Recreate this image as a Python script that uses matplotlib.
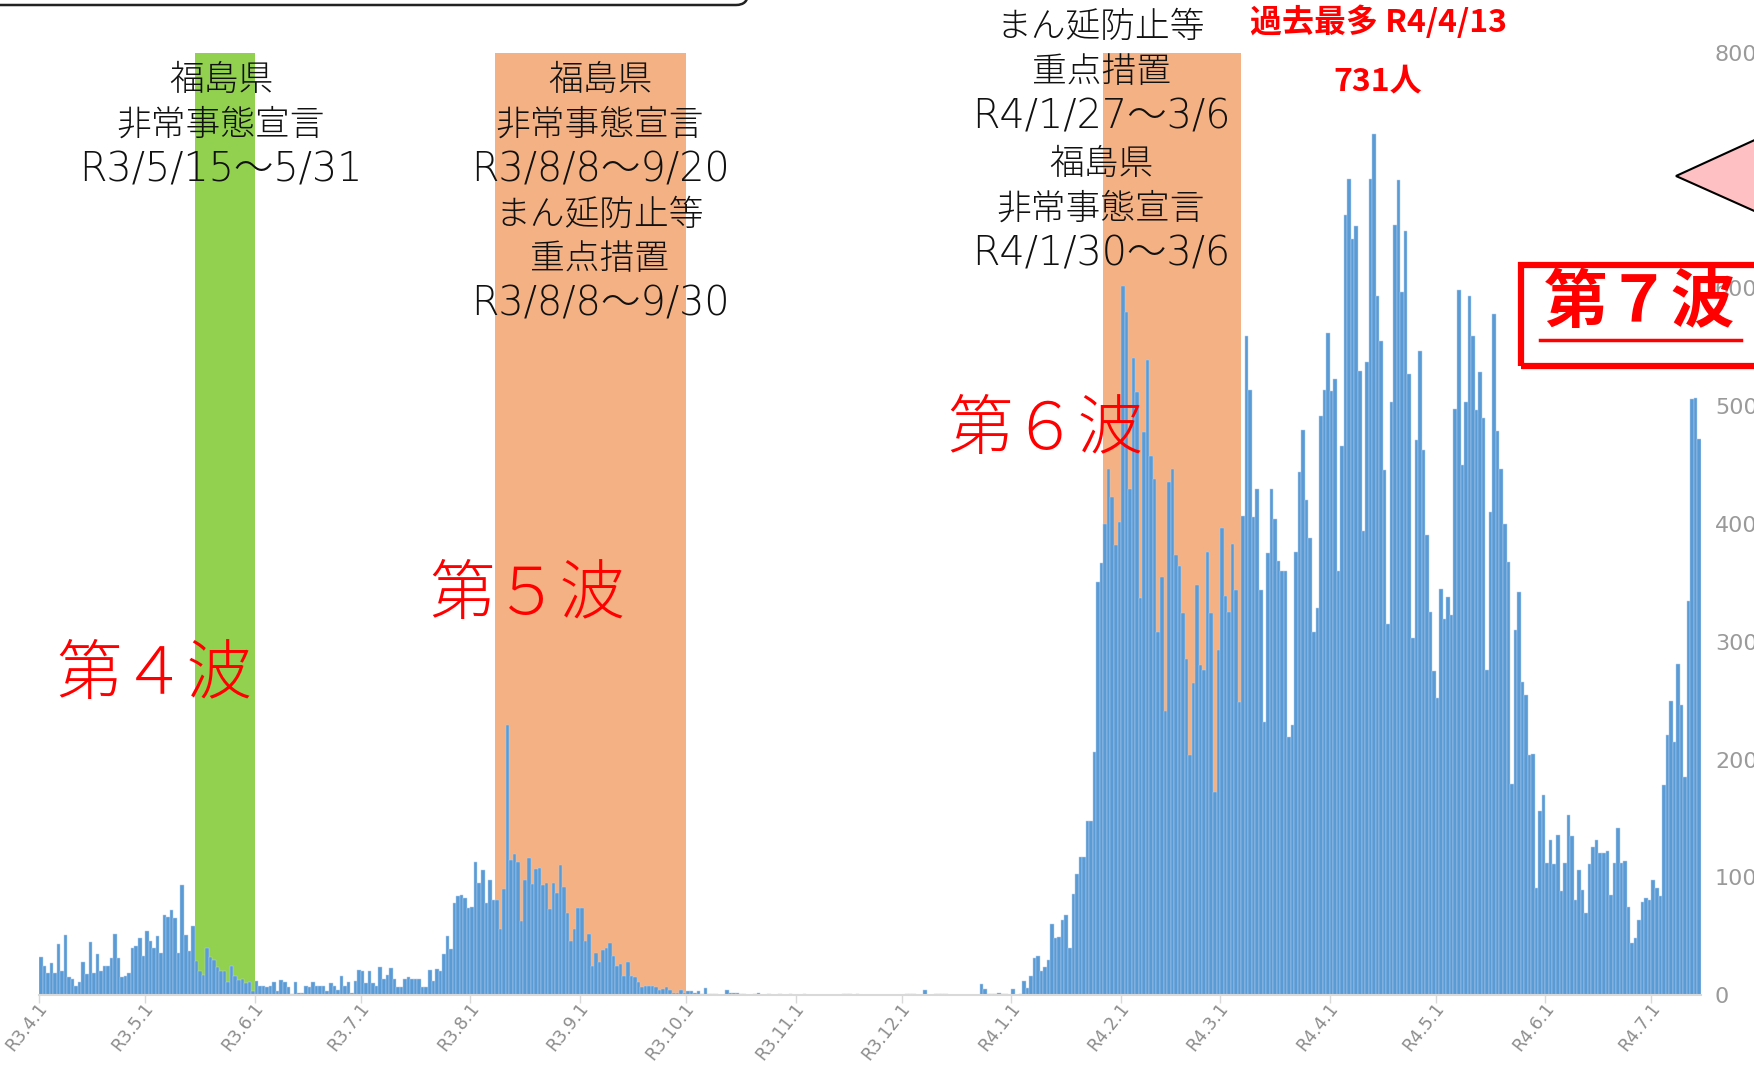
import numpy as np
import pandas as pd
import matplotlib
matplotlib.use('Agg')
import matplotlib.pyplot as plt
from matplotlib.patches import Rectangle, Polygon, FancyBboxPatch
from matplotlib.lines import Line2D
from matplotlib.transforms import ScaledTranslation

plt.rcParams['font.family'] = ['Noto Sans CJK JP', 'DejaVu Sans']

# ---------------- data (daily new cases, Fukushima) ----------------
start_date = '2021-04-01'
apr21 = [32, 25, 19, 27, 19, 43, 20, 51, 15, 14, 8, 11, 28, 18, 45, 19, 35, 20, 25, 25,
         31, 52, 31, 15, 16, 19, 40, 42, 48, 33]
may21 = [54, 46, 40, 50, 36, 68, 66, 72, 65, 36, 93, 51, 37, 59, 29, 20, 17, 40, 32, 30,
         24, 20, 20, 11, 25, 16, 13, 14, 10, 11, 3]
jun21 = [12, 8, 8, 7, 8, 11, 3, 13, 11, 7, 1, 11, 2, 2, 8, 7, 11, 8, 8, 8,
         3, 10, 8, 4, 16, 8, 11, 2, 12, 21]
jul21 = [20, 10, 20, 10, 8, 24, 14, 17, 23, 14, 7, 7, 14, 15, 14, 14, 14, 7, 7, 21,
         12, 22, 20, 35, 50, 39, 78, 84, 85, 82, 74]
aug21 = [75, 113, 95, 106, 78, 98, 81, 81, 56, 90, 229, 115, 120, 113, 63, 98, 116, 94, 107, 108,
         93, 95, 73, 95, 87, 110, 92, 70, 46, 56, 74]
sep21 = [74, 46, 52, 25, 36, 28, 38, 40, 44, 33, 25, 26, 16, 28, 16, 15, 11, 7, 8, 8,
         8, 7, 4, 5, 7, 4, 2, 2, 4, 2]
oct21 = [3, 3, 2, 3, 1, 6, 1, 1, 1, 0, 0, 4, 2, 2, 2, 1, 1, 0, 0, 1,
         2, 0, 0, 1, 0, 0, 1, 0, 0, 1, 0]
nov21 = [0, 0, 1, 0, 0, 0, 0, 0, 0, 0, 0, 0, 0, 1, 1, 1, 0, 1, 0, 0,
         0, 0, 0, 0, 0, 0, 0, 0, 0, 0]
dec21 = [0, 1, 1, 1, 0, 0, 4, 0, 0, 1, 1, 1, 1, 0, 0, 0, 0, 0, 0, 0,
         0, 0, 9, 5, 1, 1, 1, 2, 1, 1, 0]
jan22 = [5, 0, 1, 12, 6, 16, 31, 33, 20, 24, 30, 60, 48, 49, 64, 68, 40, 86, 103, 117,
         117, 148, 148, 206, 351, 367, 400, 447, 423, 382, 402]
feb22 = [602, 580, 430, 541, 512, 337, 478, 539, 458, 438, 308, 355, 241, 436, 447, 374, 364, 324, 285, 204,
         265, 348, 280, 276, 376, 324, 172, 293]
mar22 = [397, 339, 325, 383, 344, 249, 407, 560, 514, 406, 430, 344, 232, 375, 430, 404, 369, 360, 360, 219,
         229, 376, 444, 480, 420, 388, 308, 329, 492, 514, 562]
apr22 = [513, 523, 360, 466, 662, 693, 642, 653, 530, 394, 538, 693, 731, 594, 555, 446, 315, 504, 654, 692,
         597, 649, 527, 303, 471, 547, 463, 391, 325, 275]
may22 = [252, 345, 319, 338, 323, 498, 599, 450, 504, 594, 560, 497, 529, 490, 276, 410, 578, 479, 447, 400,
         368, 179, 310, 342, 266, 255, 204, 205, 91, 156, 170]
jun22 = [112, 132, 111, 136, 88, 112, 153, 135, 81, 106, 89, 70, 111, 126, 132, 121, 121, 122, 85, 112,
         142, 112, 114, 75, 44, 48, 64, 79, 82, 81]
jul22 = [98, 91, 84, 178, 221, 250, 215, 281, 246, 185, 335, 506, 507, 472]

cases = (apr21 + may21 + jun21 + jul21 + aug21 + sep21 + oct21 + nov21 + dec21 +
         jan22 + feb22 + mar22 + apr22 + may22 + jun22 + jul22)

y_ticks = [0, 100, 200, 300, 400, 500, 600, 700, 800]

periods = [('2021-05-15', '2021-05-31', '#92D050'),
           ('2021-08-08', '2021-09-30', '#F4B183'),
           ('2022-01-27', '2022-03-06', '#F4B183')]

# ---------------- figure ----------------
W, H = 1754, 1065
fig = plt.figure(figsize=(W / 100, H / 100), dpi=100)
fig.patch.set_facecolor('white')
ax = fig.add_axes([39 / W, 1 - 995 / H, 1662 / W, 942 / H])

dates = pd.date_range(start_date, periods=len(cases), freq='D')
x = np.arange(len(cases))


def idx(s):
    return int((pd.Timestamp(s) - dates[0]).days)


for s, e, c in periods:
    ax.axvspan(idx(s), idx(e) + 1, color=c, lw=0, zorder=0)

ax.bar(x, cases, width=1.0, align='edge', color='#5b9bd5',
       edgecolor='#b3d0ef', linewidth=0.35, zorder=2)

ax.set_xlim(0, len(cases))
ax.set_ylim(0, 800)

tick_pos = [i for i, d in enumerate(dates) if d.day == 1]
tick_lab = [f"R{d.year - 2018}.{d.month}.1" for d in dates if d.day == 1]
ax.set_xticks(tick_pos)
ax.set_xticklabels(tick_lab, rotation=52, ha='right', va='center',
                   rotation_mode='anchor', fontsize=12.5, color='#8c8c8c',
                   family='DejaVu Sans')
ax.tick_params(axis='x', length=6, width=1, color='#d9d9d9', pad=1)
shift = ScaledTranslation(5 / 100, 0, fig.dpi_scale_trans)
for lbl in ax.get_xticklabels():
    lbl.set_transform(lbl.get_transform() + shift)

ax.set_yticks(y_ticks)
ax.yaxis.tick_right()
ax.tick_params(axis='y', length=0, pad=10, labelsize=16, labelcolor='#9a9a9a')
for lbl in ax.get_yticklabels():
    lbl.set_family('DejaVu Sans')

for sp in ['top', 'left', 'right']:
    ax.spines[sp].set_visible(False)
ax.spines['bottom'].set_color('#d9d9d9')
ax.spines['bottom'].set_linewidth(1.5)
ax.set_facecolor('none')


def ftext(px, py, s, **kw):
    fig.text(px / W, 1 - py / H, s, ha='center', va='center', **kw)


black = dict(color='#111111', fontsize=25, fontweight='light')
rline = dict(color='#111111', fontsize=28.5, fontweight='light',
             family=['DejaVu Sans', 'Noto Sans CJK JP'])

# block 1
ftext(221, 80, '福島県', **black)
ftext(221, 125, '非常事態宣言', **black)
ftext(221, 170, 'R3/5/15～5/31', **rline)
# block 2
ftext(600, 80, '福島県', **black)
ftext(600, 125, '非常事態宣言', **black)
ftext(600, 170, 'R3/8/8～9/20', **rline)
ftext(600, 215, 'まん延防止等', **black)
ftext(600, 259, '重点措置', **black)
ftext(600, 304, 'R3/8/8～9/30', **rline)
# block 3
ftext(1101, 27, 'まん延防止等', **black)
ftext(1101, 72, '重点措置', **black)
ftext(1101, 117, 'R4/1/27～3/6', **rline)
ftext(1101, 164, '福島県', **black)
ftext(1101, 209, '非常事態宣言', **black)
ftext(1101, 254, 'R4/1/30～3/6', **rline)

# wave labels
wave = dict(color='#ff0000', fontsize=47, fontweight='light')
ftext(154, 676, '第４波', **wave)
ftext(527, 596, '第５波', **wave)
ftext(1045, 431, '第６波', **wave)

# record label
ftext(1378, 22, '過去最多 R4/4/13', color='#ff0000', fontsize=23, fontweight='bold')
ftext(1378, 81, '731人', color='#ff0000', fontsize=23, fontweight='bold')

# 第７波 box
ftext(1640, 303, '第７波', color='#ff0000', fontsize=46, fontweight='bold')
fig.add_artist(Line2D([1540 / W, 1741 / W], [1 - 340 / H, 1 - 340 / H],
                      color='#ff0000', lw=2.5, transform=fig.transFigure))
fig.add_artist(Rectangle((1521 / W, 1 - 366 / H), 260 / W, 101 / H,
                         fill=False, edgecolor='#ff0000', lw=4.5,
                         transform=fig.transFigure, clip_on=False))

# pink pointer
fig.add_artist(Polygon([[1676 / W, 1 - 176 / H], [1770 / W, 1 - 133 / H],
                        [1770 / W, 1 - 218 / H]], closed=True,
                       facecolor='#ffc0c4', edgecolor='black', lw=1.5,
                       transform=fig.transFigure, clip_on=False))

# top-left rounded box edge
fig.add_artist(FancyBboxPatch((-30, H - 5), 778, 60,
                              boxstyle='round,pad=0,rounding_size=12',
                              fill=False, edgecolor='#222222', lw=1.8,
                              transform=None, clip_on=False))

fig.savefig('out.png', dpi=100, facecolor='white')
